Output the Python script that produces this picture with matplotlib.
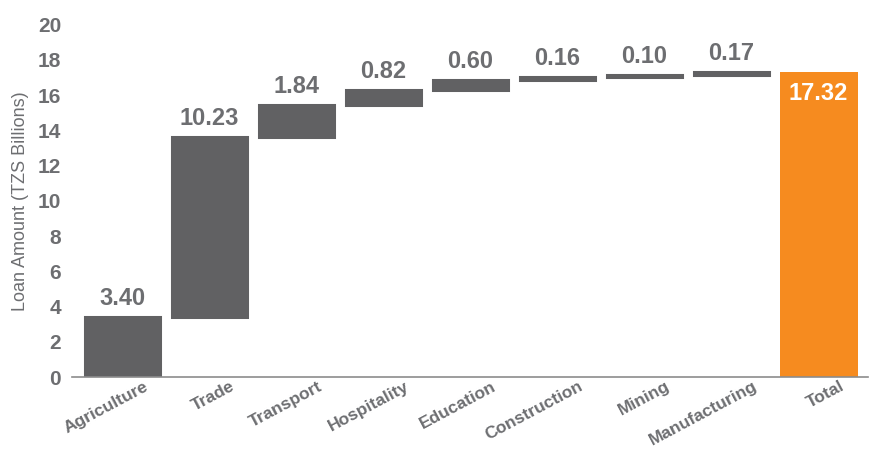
import numpy as np
import matplotlib.pyplot as plt
import matplotlib.transforms as mtransforms
from matplotlib import font_manager

sectors = ['Agriculture', 'Trade', 'Transport', 'Hospitality', 'Education',
           'Construction', 'Mining', 'Manufacturing']
amounts = [3.40, 10.23, 1.84, 0.82, 0.60, 0.16, 0.10, 0.17]
total_label = 'Total'
total_value = 17.32
y_ticks = [0, 2, 4, 6, 8, 10, 12, 14, 16, 18, 20]

names = [f.name for f in font_manager.fontManager.ttflist]
fam = 'Liberation Sans Narrow' if 'Liberation Sans Narrow' in names else 'Liberation Sans'
plt.rcParams['font.family'] = [fam, 'DejaVu Sans']

GREY = '#616163'
ORANGE = '#F68B1F'
TXT = '#6D6E71'

fig, ax = plt.subplots(figsize=(8.7, 4.49), dpi=100)
fig.subplots_adjust(left=0.083, right=0.998, top=0.945, bottom=0.16)

labels = sectors + [total_label]
x = np.arange(len(labels))
bottoms = np.concatenate([[0], np.cumsum(amounts)[:-1]])

# grey bars get a same-colour outline so the thin steps stay visible
ax.bar(x[:-1], amounts, bottom=bottoms, width=0.862, color=GREY,
       edgecolor=GREY, linewidth=2.2, joinstyle='miter')
ax.bar(x[-1], total_value, width=0.895, color=ORANGE)

for i, (b, v) in enumerate(zip(bottoms, amounts)):
    ax.annotate(f'{v:.2f}', (i, b + v), xytext=(0, 5), textcoords='offset points',
                ha='center', va='bottom', fontsize=17, fontweight='bold', color=TXT)
ax.annotate(f'{total_value:.2f}', (x[-1], total_value), xytext=(0, -7),
            textcoords='offset points', ha='center', va='top', fontsize=17,
            fontweight='bold', color='white')

ax.set_xlim(-0.575, len(labels) - 0.43)
ax.set_ylim(0, 20)
ax.set_yticks(y_ticks)
ax.set_yticklabels([str(t) for t in y_ticks], fontsize=15, fontweight='bold', color=TXT)
ax.tick_params(axis='y', length=0, pad=8)
ax.tick_params(axis='x', length=0, pad=1)
ax.set_xticks(x)
ax.set_xticklabels(labels, rotation=28, ha='right', rotation_mode='anchor',
                   fontsize=12.5, fontweight='bold', color=TXT)
offset = mtransforms.ScaledTranslation(0.21, 0, fig.dpi_scale_trans)
for lab in ax.get_xticklabels():
    lab.set_transform(lab.get_transform() + offset)

ax.set_ylabel('Loan Amount (TZS Billions)', fontsize=13, color=TXT, labelpad=6)

for s in ['top', 'right', 'left']:
    ax.spines[s].set_visible(False)
ax.spines['bottom'].set_color('#8C8C8C')
ax.spines['bottom'].set_linewidth(1.2)
ax.spines['bottom'].set_zorder(3)

plt.savefig('out.png', dpi=100)
